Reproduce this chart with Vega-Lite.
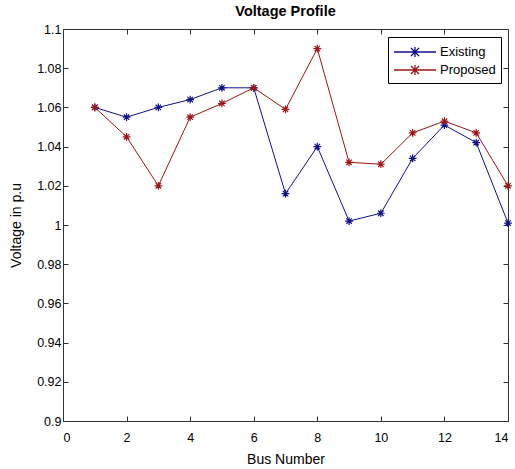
{
  "$schema": "https://vega.github.io/schema/vega-lite/v6.json",
  "autosize": {"type": "none"},
  "width": 445,
  "height": 392,
  "padding": {"left": 63, "top": 29, "right": 7, "bottom": 48},
  "background": "white",
  "title": {"text": "Voltage Profile", "font": "Liberation Sans", "fontSize": 14.5, "fontWeight": "bold", "color": "#000", "offset": 4, "anchor": "middle"},
  "config": {
    "view": {"stroke": "#333", "strokeWidth": 1},
    "axis": {"grid": false, "domainColor": "#333", "tickColor": "#333", "tickSize": -5, "labelFont": "Liberation Sans", "labelFontSize": 12.5, "labelColor": "#000", "titleFont": "Liberation Sans", "titleFontSize": 14, "titleFontWeight": "normal", "titleColor": "#000", "labelPadding": 9}
  },
  "data": {"values": [
    {"bus": 1, "series": "Existing", "v": 1.060},
    {"bus": 2, "series": "Existing", "v": 1.055},
    {"bus": 3, "series": "Existing", "v": 1.060},
    {"bus": 4, "series": "Existing", "v": 1.064},
    {"bus": 5, "series": "Existing", "v": 1.070},
    {"bus": 6, "series": "Existing", "v": 1.070},
    {"bus": 7, "series": "Existing", "v": 1.016},
    {"bus": 8, "series": "Existing", "v": 1.040},
    {"bus": 9, "series": "Existing", "v": 1.002},
    {"bus": 10, "series": "Existing", "v": 1.006},
    {"bus": 11, "series": "Existing", "v": 1.034},
    {"bus": 12, "series": "Existing", "v": 1.051},
    {"bus": 13, "series": "Existing", "v": 1.042},
    {"bus": 14, "series": "Existing", "v": 1.001},
    {"bus": 1, "series": "Proposed", "v": 1.060},
    {"bus": 2, "series": "Proposed", "v": 1.045},
    {"bus": 3, "series": "Proposed", "v": 1.020},
    {"bus": 4, "series": "Proposed", "v": 1.055},
    {"bus": 5, "series": "Proposed", "v": 1.062},
    {"bus": 6, "series": "Proposed", "v": 1.070},
    {"bus": 7, "series": "Proposed", "v": 1.059},
    {"bus": 8, "series": "Proposed", "v": 1.090},
    {"bus": 9, "series": "Proposed", "v": 1.032},
    {"bus": 10, "series": "Proposed", "v": 1.031},
    {"bus": 11, "series": "Proposed", "v": 1.047},
    {"bus": 12, "series": "Proposed", "v": 1.053},
    {"bus": 13, "series": "Proposed", "v": 1.047},
    {"bus": 14, "series": "Proposed", "v": 1.020}
  ]},
  "resolve": {"axis": {"x": "independent", "y": "independent"}},
  "layer": [
    {
      "mark": {"type": "line", "strokeWidth": 1},
      "encoding": {
        "x": {"field": "bus", "type": "quantitative", "scale": {"domain": [0, 14], "nice": false}, "axis": {"title": "Bus Number", "values": [0, 2, 4, 6, 8, 10, 12, 14], "labelPadding": 15, "titlePadding": 9}},
        "y": {"field": "v", "type": "quantitative", "scale": {"domain": [0.9, 1.1], "nice": false, "zero": false}, "axis": {"title": "Voltage in p.u", "values": [0.9, 0.92, 0.94, 0.96, 0.98, 1.0, 1.02, 1.04, 1.06, 1.08, 1.1], "labelExpr": "format(datum.value, '.2~f')", "labelPadding": 7, "titlePadding": 13}},
        "color": {"field": "series", "type": "nominal", "scale": {"domain": ["Existing", "Proposed"], "range": ["#10108a", "#a01414"]},
          "legend": {"title": null, "orient": "none", "legendX": 325, "legendY": 8, "direction": "vertical", "strokeColor": "#000", "fillColor": "white", "padding": 5, "labelFont": "Liberation Sans", "labelFontSize": 13, "labelColor": "#000", "symbolType": "M-1,0L3.667,0M0.89,-0.44L1.78,0.44M0.89,0.44L1.78,-0.44M1.333,-0.55L1.333,0.55", "symbolSize": 324, "symbolStrokeWidth": 1.3, "rowPadding": 0, "labelOffset": 27}}
      }
    },
    {
      "mark": {"type": "point", "shape": "M-1,0L1,0M0,-1L0,1M-0.7,-0.7L0.7,0.7M-0.7,0.7L0.7,-0.7", "size": 60, "filled": false, "strokeWidth": 1.2, "opacity": 1},
      "encoding": {
        "x": {"field": "bus", "type": "quantitative", "axis": {"orient": "top", "title": null, "labels": false, "domain": false, "values": [2, 4, 6, 8, 10, 12]}},
        "y": {"field": "v", "type": "quantitative", "axis": {"orient": "right", "title": null, "labels": false, "domain": false, "values": [0.92, 0.94, 0.96, 0.98, 1.0, 1.02, 1.04, 1.06, 1.08]}},
        "color": {"field": "series", "type": "nominal", "legend": null}
      }
    }
  ]
}
